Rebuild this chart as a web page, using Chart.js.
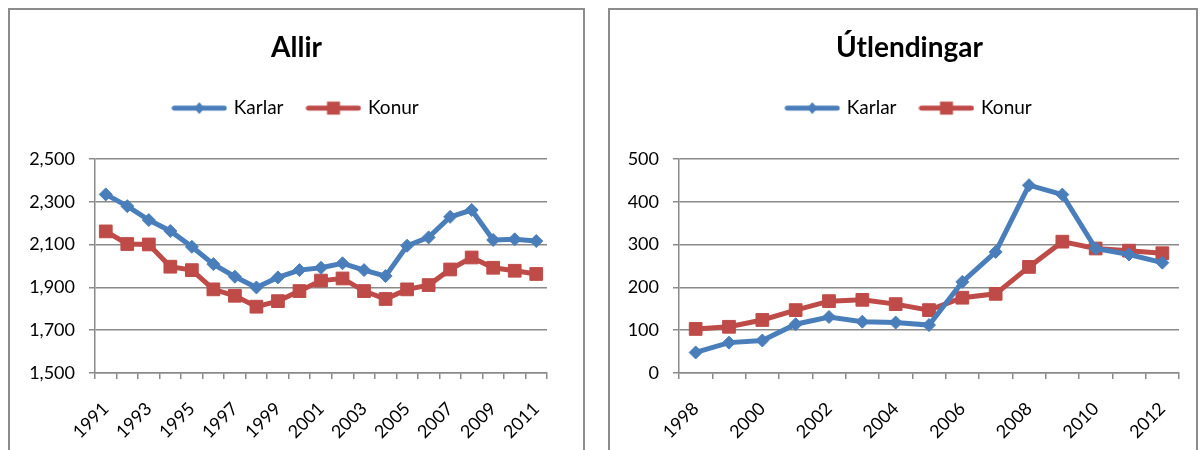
<!DOCTYPE html>
<html><head><meta charset="utf-8">
<script src="https://cdn.jsdelivr.net/npm/chart.js@4"></script>
<style>
body{margin:0;background:#fff;width:1204px;height:450px;overflow:hidden;position:relative;font-family:Lato}
.box{position:absolute;border:2px solid #8c8c8c;box-sizing:border-box;}
#b1{left:8px;top:8px;width:577px;height:470px}
#b2{left:608px;top:8px;width:590px;height:470px}
.wrap{position:absolute}
#w1{left:10px;top:10px;width:573px;height:440px}
#w2{left:611px;top:10px;width:597px;height:440px}
</style></head>
<body>
<div class="box" id="b1"></div>
<div class="box" id="b2"></div>
<div class="wrap" id="w1"><canvas id="c1"></canvas></div>
<div class="wrap" id="w2"><canvas id="c2"></canvas></div>
<script>
const years1 = ['1991','1992','1993','1994','1995','1996','1997','1998','1999','2000','2001','2002','2003','2004','2005','2006','2007','2008','2009','2010','2011'];
const karlar1 = [2335,2280,2215,2164,2090,2009,1950,1900,1947,1981,1992,2013,1981,1953,2095,2134,2230,2262,2122,2125,2117];
const konur1 = [2162,2103,2101,1997,1981,1891,1861,1810,1836,1883,1932,1942,1883,1846,1891,1911,1984,2040,1992,1978,1963];

const years2 = ['1998','1999','2000','2001','2002','2003','2004','2005','2006','2007','2008','2009','2010','2011','2012'];
const karlar2 = [48,71,76,114,131,120,118,112,213,283,439,417,291,277,258];
const konur2 = [103,108,124,147,168,171,161,147,176,185,248,307,291,286,280];

const seriesNames = ['Karlar','Konur'];
const titles = ['Allir','Útlendingar'];

const BLUE = '#4a7ebb';
const RED = '#be4b48';
const GRID = '#8a8a8a';
const FONT = 'Lato';

function legendImage(color, style) {
  const c = document.createElement('canvas');
  c.width = 56; c.height = 16;
  const x = c.getContext('2d');
  x.strokeStyle = color; x.lineWidth = 5; x.lineCap = 'round';
  x.beginPath(); x.moveTo(3, 8); x.lineTo(53, 8); x.stroke();
  x.fillStyle = color;
  x.beginPath();
  if (style === 'diamond') {
    x.moveTo(28, 2); x.lineTo(33, 8); x.lineTo(28, 14); x.lineTo(23, 8); x.closePath();
  } else {
    x.rect(21.5, 1.5, 13, 13);
  }
  x.fill();
  return c;
}
const legImgs = [legendImage(BLUE, 'diamond'), legendImage(RED, 'square')];

function makeChart(id, title, labels, k, f, yMin, yMax, yStep, yWidth, padRight, extraLegend) {
  const spacer = {
    id: 'spacer' + id,
    afterInit(chart) {
      const lg = chart.legend;
      const fit = lg.fit;
      lg.fit = function () { fit.call(this); this.height += extraLegend; };
    }
  };
  return new Chart(document.getElementById(id), {
    type: 'line',
    data: {
      labels: labels,
      datasets: [
        { label: seriesNames[0], data: k, borderColor: BLUE, backgroundColor: BLUE, borderWidth: 5,
          pointStyle: 'rectRot', pointRadius: 6.5, pointBorderWidth: 1, pointBorderColor: BLUE, tension: 0 },
        { label: seriesNames[1], data: f, borderColor: RED, backgroundColor: RED, borderWidth: 5,
          pointStyle: 'rect', pointRadius: 9, pointBorderWidth: 1, pointBorderColor: RED, tension: 0 }
      ]
    },
    options: {
      responsive: true, maintainAspectRatio: false, animation: false,
      layout: { padding: 0 },
      plugins: {
        title: { display: true, text: title, color: '#000', font: { family: FONT, size: 28, weight: 'bold' }, padding: { top: 21, bottom: 9 } },
        legend: {
          display: true, position: 'top',
          labels: {
            usePointStyle: true, pointStyleWidth: 50, padding: 25, color: '#000',
            font: { family: FONT, size: 19 },
            generateLabels(chart) {
              return chart.data.datasets.map((d, i) => ({ text: d.label, pointStyle: legImgs[i], datasetIndex: i, fillStyle: d.borderColor, strokeStyle: d.borderColor, lineWidth: 0, hidden: false, fontColor: '#000' }));
            }
          }
        },
        tooltip: { enabled: false }
      },
      scales: {
        x: {
          offset: true,
          grid: { display: true, offset: true, drawOnChartArea: false, drawTicks: true, tickLength: 6, color: GRID, lineWidth: 1.5 },
          border: { display: true, color: GRID, width: 1.5 },
          ticks: {
            autoSkip: false, maxRotation: 45, minRotation: 45, color: '#000', padding: 19,
            font: { family: FONT, size: 18 },
            callback: function (v, i) { return i % 2 === 0 ? this.getLabelForValue(v) : ''; }
          },
          afterFit(s) { s.height = 77; }
        },
        y: {
          min: yMin, max: yMax,
          grid: { color: GRID, lineWidth: 1.5, drawTicks: true, tickLength: 6 },
          border: { display: true, color: GRID, width: 1.5 },
          ticks: { stepSize: yStep, color: '#000', padding: 14, font: { family: FONT, size: 18 } },
          afterFit(s) { s.width = yWidth; }
        },
        pad: {
          type: 'linear', position: 'right', display: true,
          grid: { display: false, drawOnChartArea: false },
          border: { display: false },
          ticks: { display: false },
          afterFit(s) { s.width = padRight; }
        }
      }
    },
    plugins: [spacer]
  });
}

makeChart('c1', titles[0], years1, karlar1, konur1, 1500, 2500, 200, 85, 36, 31.5);
makeChart('c2', titles[1], years2, karlar2, konur2, 0, 500, 100, 68, 29, 31.5);
</script>
</body></html>
